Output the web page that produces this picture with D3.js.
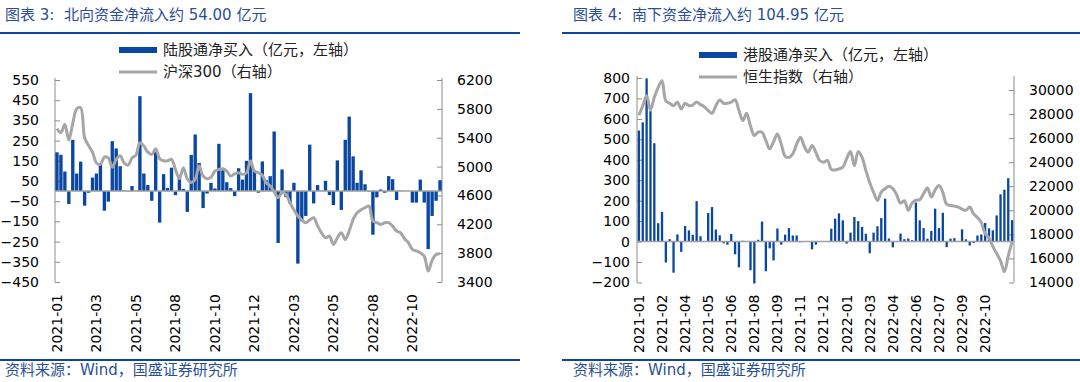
<!DOCTYPE html>
<html>
<head>
<meta charset="utf-8">
<script src="https://cdn.jsdelivr.net/npm/d3@7"></script>
<style>
  body { margin: 0; background: #fff; }
  svg text { font-family: "DejaVu Sans", "Noto Sans CJK SC", sans-serif; white-space: pre; }
</style>
</head>
<body>
<svg id="chart" width="1080" height="382"></svg>
<script>
// weekly data, 2021-01 .. 2022-11
const northFlow = [192,180,97,-64,254,87,146,-72,-8,67,
  87,136,-97,-52,247,211,123,3,-2,25,
  2,470,87,30,-48,193,-156,84,15,116,
  -20,80,11,-103,179,280,139,-84,-12,41,
  13,234,103,44,15,-25,113,57,150,485,
  102,-8,147,54,74,295,-257,107,-30,-61,
  41,-359,-150,-123,230,-61,30,2,51,-20,
  -69,152,-93,254,369,172,41,103,34,-3,
  -216,-31,8,-8,74,59,-44,2,0,0,
  -57,-57,57,-57,-287,-123,-48,54]

const csi300 = [5525,5470,5585,5368,5600,5800,5816,5400,5290,5200,
  5050,5030,5130,5120,4990,5100,5150,5050,5020,5120,
  5160,5331,5285,5200,5169,5248,5109,5080,5080,5100,
  4961,4830,4984,4830,4780,4822,5007,4869,4832,4850,
  4938,4960,4970,4938,4869,4900,4915,4892,4915,5077,
  4938,4915,4880,4776,4730,4650,4568,4637,4614,4499,
  4400,4314,4260,4222,4260,4291,4180,4080,4013,4036,
  3921,4013,4083,3990,4106,4268,4360,4400,4430,4453,
  4245,4222,4198,4222,4222,4175,4106,4083,4000,3944,
  3852,3830,3805,3759,3551,3700,3782,3790]

const southFlow = [543,583,798,638,481,90,145,-102,12,-152,
  35,-50,76,55,33,198,26,0,140,169,
  59,31,-8,-15,37,-62,-126,4,0,-140,
  -205,9,98,-145,-33,-92,64,-15,34,66,
  30,30,-3,0,0,-38,-15,2,0,3,
  63,112,138,104,-10,44,120,100,72,38,
  -57,44,75,115,210,15,-28,0,39,12,
  15,7,191,104,66,14,52,161,66,141,
  -27,14,17,0,60,11,-19,-7,30,35,
  91,65,55,128,231,254,310,104.95]

const hsi = [27900,28700,29533,28345,29400,30200,30777,29100,28900,28700,
  28980,28427,28900,28700,28750,29000,28790,28600,28300,28069,
  28700,29174,28900,28900,29000,29200,28300,27460,28069,27000,
  26217,26500,26493,25800,25111,25700,26355,25500,24500,24400,
  24697,25500,26078,25300,24835,25388,24800,24144,24006,24144,
  23400,23350,23452,23591,24300,24900,23700,24900,24400,23300,
  22300,21500,20827,21518,21794,22000,21800,21300,20600,20800,
  19998,20600,20850,20882,21400,21850,21103,21700,22070,21500,
  20500,20400,20350,20274,20100,20000,20274,19700,19400,19000,
  18063,17700,17000,16405,15800,14885,16200,17372]

const northTickLabels = ["2021-01","2021-03","2021-05","2021-08","2021-10",
  "2021-12","2022-03","2022-05","2022-08","2022-10"]
const southTickLabels = ["2021-01","2021-02","2021-04","2021-05","2021-06","2021-08",
  "2021-09","2021-11","2021-12","2022-01","2022-03","2022-04","2022-06","2022-07",
  "2022-09","2022-10"]

const blue = "#0A47A2"
const gray = "#A6A6A6"
const textBlue = "#2B4F96"

let svg = d3.select("#chart")

function drawPanel(cfg) {
  let g = svg.append("g")

  // title + rules
  g.append("text")
    .attr("x", cfg.titleX).attr("y", 20)
    .style("font-size", "15px").style("fill", textBlue)
    .text(cfg.title)
  g.append("line")
    .attr("x1", cfg.ruleX0).attr("x2", cfg.ruleX1).attr("y1", 33).attr("y2", 33)
    .style("stroke", "#0C45A0").style("stroke-width", "2px")
  g.append("line")
    .attr("x1", cfg.ruleX0).attr("x2", cfg.ruleX1).attr("y1", 360).attr("y2", 360)
    .style("stroke", "#0C45A0").style("stroke-width", "2px")
  g.append("text")
    .attr("x", cfg.titleX).attr("y", 375)
    .style("font-size", "15px").style("fill", textBlue)
    .text("资料来源：Wind，国盛证券研究所")

  let x = d3.scaleBand()
    .domain(d3.range(cfg.flow.length))
    .range([cfg.x0, cfg.x1])
    .paddingInner(cfg.pad)
    .paddingOuter(cfg.pad / 2)

  let yL = d3.scaleLinear().domain(cfg.leftDomain).range([cfg.yBottom, cfg.yTop])
  let yR = d3.scaleLinear().domain(cfg.rightDomain).range([cfg.yBottom, cfg.yTop])

  let leftAxis = g.append("g")
    .attr("transform", `translate(${cfg.x0},0)`)
    .call(d3.axisLeft(yL).tickValues(cfg.leftTicks).tickFormat(d3.format("d"))
      .tickSize(-5).tickSizeOuter(0).tickPadding(cfg.leftPad))
  let rightAxis = g.append("g")
    .attr("transform", `translate(${cfg.x1},0)`)
    .call(d3.axisRight(yR).tickValues(cfg.rightTicks).tickFormat(d3.format("d"))
      .tickSize(-5).tickSizeOuter(0).tickPadding(15))

  ;[leftAxis, rightAxis].forEach(a => {
    a.selectAll("path, line").style("stroke", "#8C8C8C")
    a.selectAll("text").style("font-size", "14px").style("fill", "#000")
  })
  leftAxis.select(".domain").attr("d", `M0,${cfg.yTop - 2}V${cfg.yBottom}`)
  rightAxis.select(".domain").attr("d", `M0,${cfg.yTop - 2}V${cfg.yBottom}`)

  // bars
  g.append("g")
    .selectAll("rect")
    .data(cfg.flow)
    .join("rect")
    .attr("x", (d, i) => x(i))
    .attr("width", x.bandwidth())
    .attr("y", d => yL(Math.max(0, d)))
    .attr("height", d => Math.abs(yL(d) - yL(0)))
    .style("fill", blue)

  // zero line
  g.append("line")
    .attr("x1", cfg.x0).attr("x2", cfg.x1)
    .attr("y1", yL(0)).attr("y2", yL(0))
    .style("stroke", "#A0A0A0").style("stroke-width", "1.5px")

  // index line
  let line = d3.line()
    .x((d, i) => x(i) + x.bandwidth() / 2)
    .y(d => yR(d))
    .curve(d3.curveCatmullRom.alpha(0.5))

  g.append("path")
    .attr("d", line(cfg.index))
    .style("fill", "none")
    .style("stroke", gray)
    .style("stroke-width", "3px")
    .style("stroke-linejoin", "round")

  // category labels
  let xAxis = g.append("g")
    .attr("transform", `translate(0,${cfg.yBottom + 12})`)
    .call(d3.axisBottom(x)
      .tickValues(cfg.tickLabels.map((t, k) => k * cfg.tickStep))
      .tickFormat((d, k) => cfg.tickLabels[k])
      .tickSize(0))
  xAxis.select(".domain").remove()
  xAxis.selectAll("text")
    .attr("y", 0).attr("x", 0).attr("dy", "0.35em")
    .attr("transform", "rotate(-90)")
    .style("text-anchor", "end")
    .style("font-size", "14px")
    .style("fill", "#000")

  // legend
  g.append("rect")
    .attr("x", cfg.legX).attr("y", cfg.legY - 3)
    .attr("width", 38).attr("height", 6)
    .style("fill", blue)
  g.append("text")
    .attr("x", cfg.legX + 44).attr("y", cfg.legY).attr("dy", "0.35em")
    .style("font-size", "15px").style("fill", "#222")
    .text(cfg.legBar)
  g.append("line")
    .attr("x1", cfg.legX).attr("x2", cfg.legX + 38)
    .attr("y1", cfg.legY + 22).attr("y2", cfg.legY + 22)
    .style("stroke", gray).style("stroke-width", "3px")
  g.append("text")
    .attr("x", cfg.legX + 44).attr("y", cfg.legY + 22).attr("dy", "0.35em")
    .style("font-size", "15px").style("fill", "#222")
    .text(cfg.legLine)
}

drawPanel({
  title: "图表 3:  北向资金净流入约 54.00 亿元",
  titleX: 5, ruleX0: 0, ruleX1: 520,
  flow: northFlow, index: csi300,
  x0: 55, x1: 442, yTop: 80, yBottom: 282, pad: 0.15,
  leftDomain: [-450, 550], leftTicks: d3.range(-450, 551, 100), leftPad: 16,
  rightDomain: [3400, 6200], rightTicks: d3.range(3400, 6201, 400),
  tickLabels: northTickLabels, tickStep: 10,
  legX: 119, legY: 50,
  legBar: "陆股通净买入（亿元，左轴）", legLine: "沪深300（右轴）"
})

drawPanel({
  title: "图表 4:  南下资金净流入约 104.95 亿元",
  titleX: 573, ruleX0: 562, ruleX1: 1080,
  flow: southFlow, index: hsi,
  x0: 637, x1: 1014, yTop: 78, yBottom: 282.5, pad: 0.4,
  leftDomain: [-200, 800], leftTicks: d3.range(-200, 801, 100), leftPad: 7,
  rightDomain: [14000, 31000], rightTicks: d3.range(14000, 30001, 2000),
  tickLabels: southTickLabels, tickStep: 6,
  legX: 699, legY: 55,
  legBar: "港股通净买入（亿元，左轴）", legLine: "恒生指数（右轴）"
})
</script>
</body>
</html>
